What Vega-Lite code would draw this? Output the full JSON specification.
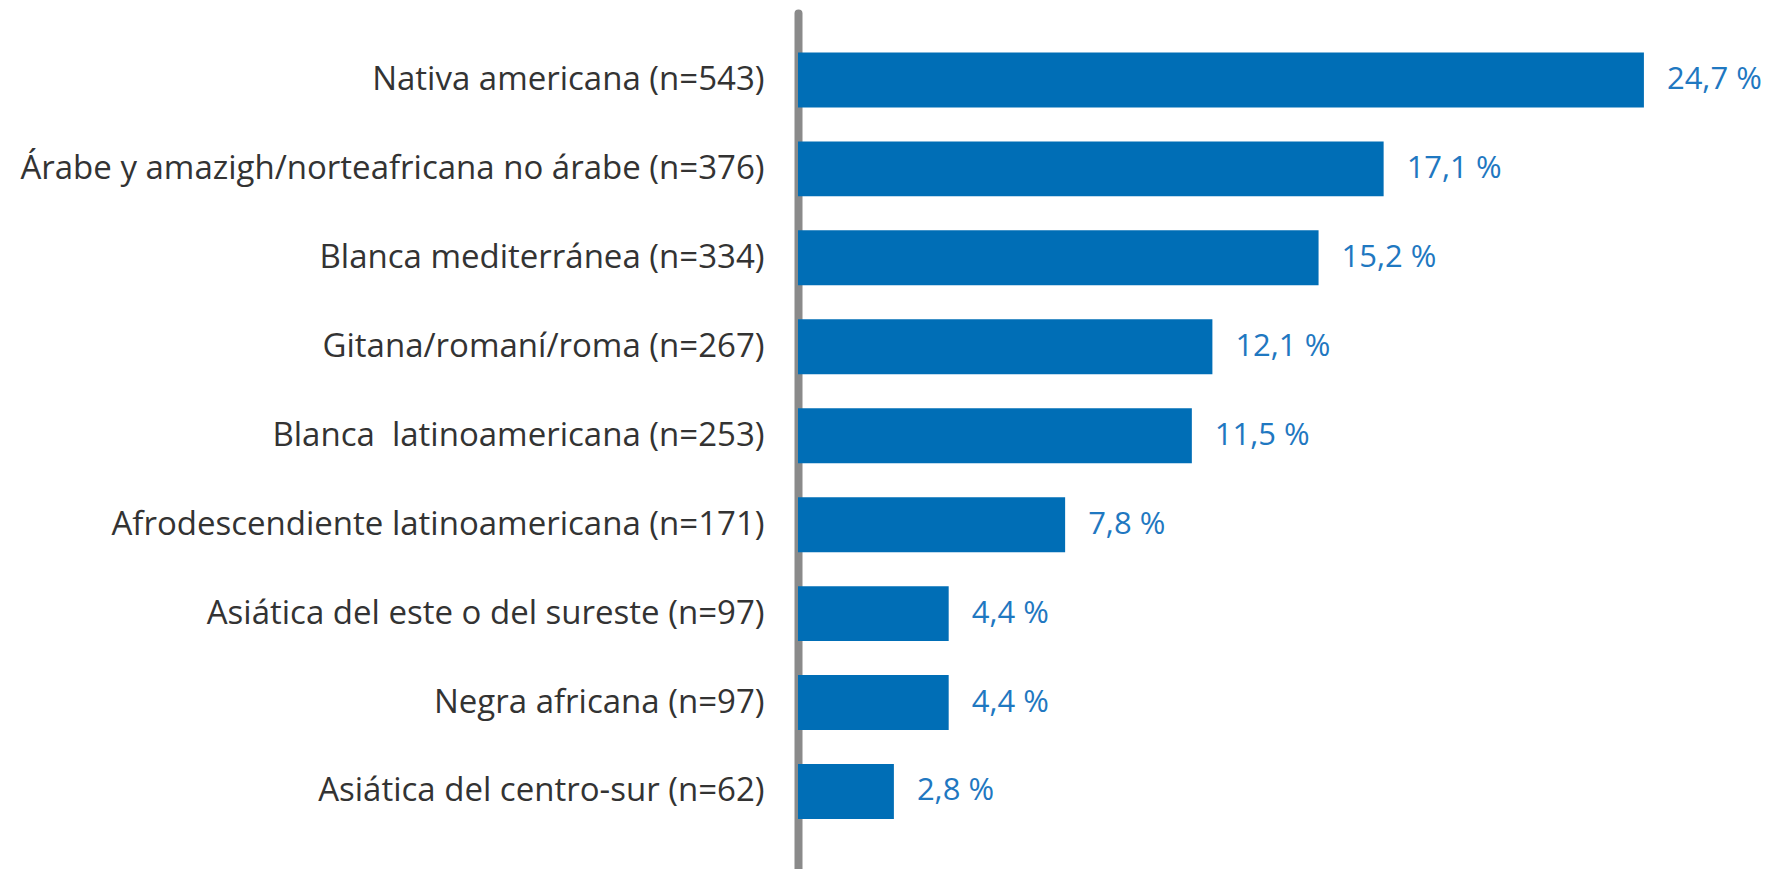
{
  "$schema": "https://vega.github.io/schema/vega-lite/v6.json",
  "autosize": {"type": "none"},
  "padding": {"left": 798, "top": 13, "right": 0, "bottom": 0},
  "width": 974,
  "height": 856,
  "background": "white",
  "data": {"values": [
    {"grupo": "Nativa americana (n=543)", "pct": 24.7, "etiqueta": "24,7 %"},
    {"grupo": "Árabe y amazigh/norteafricana no árabe (n=376)", "pct": 17.1, "etiqueta": "17,1 %"},
    {"grupo": "Blanca mediterránea (n=334)", "pct": 15.2, "etiqueta": "15,2 %"},
    {"grupo": "Gitana/romaní/roma (n=267)", "pct": 12.1, "etiqueta": "12,1 %"},
    {"grupo": "Blanca\u00a0 latinoamericana (n=253)", "pct": 11.5, "etiqueta": "11,5 %"},
    {"grupo": "Afrodescendiente latinoamericana (n=171)", "pct": 7.8, "etiqueta": "7,8 %"},
    {"grupo": "Asiática del este o del sureste (n=97)", "pct": 4.4, "etiqueta": "4,4 %"},
    {"grupo": "Negra africana (n=97)", "pct": 4.4, "etiqueta": "4,4 %"},
    {"grupo": "Asiática del centro-sur (n=62)", "pct": 2.8, "etiqueta": "2,8 %"}
  ]},
  "encoding": {
    "y": {
      "field": "grupo", "type": "nominal", "sort": null, "title": null,
      "scale": {"paddingInner": 0.382, "paddingOuter": 0.503, "align": 0.441},
      "axis": {
        "domain": true, "domainColor": "#8a8a8a", "domainWidth": 8, "domainCap": "round",
        "ticks": false, "labelPadding": 34, "labelFont": "Open Sans",
        "labelFontSize": 33, "labelColor": "#333333", "labelLimit": 0, "grid": false
      }
    },
    "x": {
      "field": "pct", "type": "quantitative",
      "scale": {"domain": [0, 28.44], "nice": false},
      "axis": null
    }
  },
  "layer": [
    {"mark": {"type": "bar", "color": "#006eb6"}},
    {"mark": {"type": "text", "align": "left", "baseline": "middle", "dx": 23, "font": "Open Sans", "fontSize": 31, "color": "#1f78c1"},
     "encoding": {"text": {"field": "etiqueta"}}}
  ],
  "config": {"view": {"stroke": null}}
}
